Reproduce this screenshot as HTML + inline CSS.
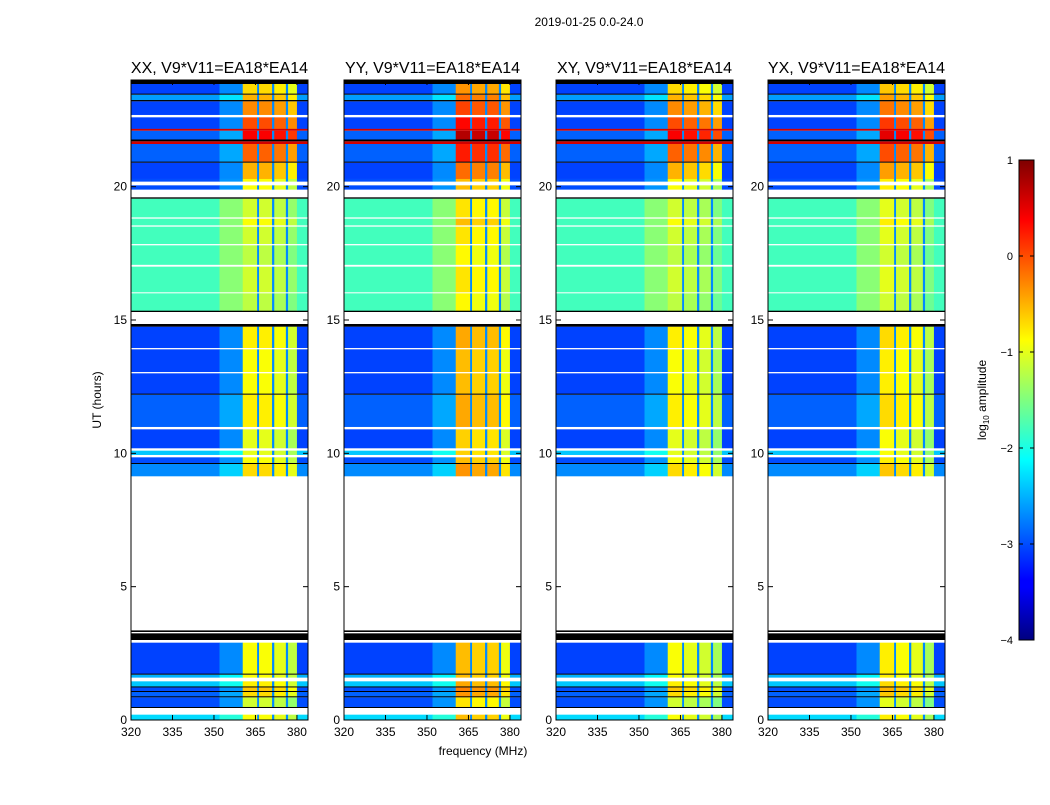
<!DOCTYPE html>
<html><head><meta charset="utf-8"><style>
body{margin:0;background:#fff;width:1050px;height:800px;overflow:hidden}
text{font-family:"Liberation Sans",sans-serif;fill:#000}
</style></head><body>
<svg id="c" width="1050" height="800" xmlns="http://www.w3.org/2000/svg">
<defs><linearGradient id="jet" x1="0" y1="1" x2="0" y2="0">
<stop offset="0" stop-color="#00007f"/><stop offset="0.11" stop-color="#0000ff"/><stop offset="0.125" stop-color="#0000ff"/>
<stop offset="0.375" stop-color="#00ffff"/><stop offset="0.625" stop-color="#ffff00"/><stop offset="0.875" stop-color="#ff0000"/><stop offset="1" stop-color="#7f0000"/>
</linearGradient></defs>
<text x="589" y="26" font-size="12" text-anchor="middle">2019-01-25 0.0-24.0</text>
<text x="483" y="755" font-size="12" text-anchor="middle">frequency (MHz)</text>
<text x="101" y="400" font-size="12" text-anchor="middle" transform="rotate(-90 101 400)">UT (hours)</text>
<g id="panels"></g>
<g>
<rect x="1019" y="160" width="15" height="480" fill="url(#jet)" stroke="#000" stroke-width="1"/>
</g>
<g id="cbticks"></g>
<text x="986" y="400" font-size="12" text-anchor="middle" transform="rotate(-90 986 400)">log<tspan font-size="8" dy="3">10</tspan><tspan dy="-3"> amplitude</tspan></text>
</svg>
<script>
const titles=["XX, V9*V11=EA18*EA14","YY, V9*V11=EA18*EA14","XY, V9*V11=EA18*EA14","YX, V9*V11=EA18*EA14"];
const panelLeft=[131,344,556,768];
const xTicks=[320,335,350,365,380];
const yTicks=[0,5,10,15,20];
const cbTicks=[1,0,-1,-2,-3,-4];
// time rows: [startHour, endHour, lowValue, highValue]; "W"=flagged white, "K"=black line, "R"=red line
const timeRows=[
[0,0.2,-2.3,-1.0],[0.2,0.45,"W"],[0.45,0.5,"K"],[0.5,0.85,-3.0,-1.2],[0.85,0.9,"K"],
[0.9,1.05,-2.9,-0.8],[1.05,1.1,"K"],[1.1,1.22,-3.0,-0.7],[1.22,1.27,"K"],[1.27,1.45,-2.4,-0.9],
[1.45,1.6,"W"],[1.6,1.7,-2.5,-1.0],[1.7,1.75,"K"],[1.75,2.9,-3.05,-1.0],[2.9,3.0,"W"],
[3.0,3.25,"K"],[3.25,3.3,"W"],[3.3,3.36,"K"],[3.36,9.15,"W"],[9.15,9.6,-2.7,-0.8],
[9.6,9.65,"K"],[9.65,9.85,-3.0,-1.0],[9.85,9.95,"W"],[9.95,10.1,-2.4,-1.1],[10.1,10.2,"W"],
[10.2,10.9,-3.05,-1.1],[10.9,11.0,"W"],[11.0,12.2,-2.9,-0.9],[12.2,12.25,"K"],[12.25,13.0,-3.05,-1.0],
[13.0,13.06,"W"],[13.06,13.9,-3.05,-1.0],[13.9,13.96,"W"],[13.96,14.75,-3.05,-0.9],[14.75,14.85,"K"],
[14.85,15.3,"W"],[15.3,15.36,"K"],[15.36,16.0,-1.8,-1.3],[16.0,16.05,"W"],[16.05,17.0,-1.8,-1.2],
[17.0,17.08,"W"],[17.08,17.8,-1.8,-1.3],[17.8,17.86,"W"],[17.86,18.5,-1.8,-1.2],[18.5,18.56,"W"],
[18.56,18.8,-1.8,-1.0],[18.8,18.86,"W"],[18.86,19.55,-1.8,-1.2],[19.55,19.6,"K"],[19.6,19.9,"W"],
[19.9,20.05,-3.0,-1.0],[20.05,20.2,"W"],[20.2,20.3,-3.0,-1.0],[20.3,20.9,-3.05,-0.6],[20.9,20.95,"K"],
[20.95,21.6,-2.9,-0.2],[21.6,21.7,"R"],[21.7,21.78,"K"],[21.78,22.1,-2.9,0.3],[22.1,22.18,"R"],
[22.18,22.6,-3.05,-0.1],[22.6,22.7,"W"],[22.7,23.2,-3.05,-0.4],[23.2,23.26,"K"],[23.26,23.45,-2.6,-0.6],
[23.45,23.5,"K"],[23.5,23.85,-3.05,-0.8],[23.85,24,"K"]];
// frequency segments: [startMHz, endMHz, type]
const freqSegs=[[320,352,"lowA"],[352,360.4,"lowB"],[360.4,365.6,"s1"],[365.6,366.3,"gap"],[366.3,371,"s2"],[371,371.8,"gap"],[371.8,376,"s3"],[376,376.8,"gap"],[376.8,380,"s4"],[380,384,"lowC"]];
// per-panel sub-band offsets [s1,s2,s3,s4] and high-band offset
const subOffsets=[[0.1,0.1,0,-0.2],[0.3,0.2,0.2,-0.1],[0.1,0,-0.1,-0.3],[0.2,0.1,0,-0.3]];
const highOffset=[0,0.15,0,0];

const Y0=720,Y1=80,W=177,FMIN=320,FMAX=384;
const yS=h=>Y0-(h/24)*(Y0-Y1);
function jet(v){let t=(v+4)/5;t=Math.max(0,Math.min(1,t));
 const c=x=>Math.round(255*Math.max(0,Math.min(1,1.5-Math.abs(x))));
 return `rgb(${c(4*t-3)},${c(4*t-2)},${c(4*t-1)})`;}
const NS="http://www.w3.org/2000/svg";
function mk(tag,at,parent){const e=document.createElementNS(NS,tag);for(const k in at)e.setAttribute(k,at[k]);parent.appendChild(e);return e;}
const G=document.getElementById("panels");
panelLeft.forEach((L,p)=>{
 const xS=f=>L+(f-FMIN)/(FMAX-FMIN)*W;
 const g=mk("g",{},G);
 
 
 timeRows.forEach(r=>{
  const y=yS(r[1]),h=yS(r[0])-yS(r[1]);
  if(r[2]==="W")return;
  if(r[2]==="K"||r[2]==="R"){const e=mk("rect",{x:xS(FMIN),y:y,width:W,height:h,fill:r[2]==="K"?"#000":jet(0.6)},g);
   
   return;}
  freqSegs.forEach(s=>{
   let v;
   if(s[2]==="lowA"||s[2]==="lowC")v=r[2];
   else if(s[2]==="lowB")v=r[2]+0.35;
   else if(s[2]==="gap")v=-2.7;
   else{const i=+s[2][1]-1;v=r[3]+highOffset[p]+subOffsets[p][i];}
   const e=mk("rect",{x:xS(s[0]),y:y,width:xS(s[1])-xS(s[0])+0.3,height:h+0.3,fill:jet(v)},g);
   
   
  });
 });
 const fr=mk("rect",{x:L,y:Y1,width:W,height:Y0-Y1,fill:"none",stroke:"#000","stroke-width":1},g);
 
 
 const t=mk("text",{x:L+W/2,y:73,"font-size":16,"text-anchor":"middle"},g);t.textContent=titles[p];
 
 
 xTicks.forEach(f=>{const x=xS(f);
  mk("line",{x1:x,x2:x,y1:Y0,y2:Y0-5,stroke:"#000"},g);mk("line",{x1:x,x2:x,y1:Y1,y2:Y1+5,stroke:"#000"},g);
  const tx=mk("text",{x:x,y:Y0+16,"font-size":12,"text-anchor":"middle"},g);tx.textContent=f;
  
  });
 yTicks.forEach(hh=>{const y=yS(hh);
  mk("line",{x1:L,x2:L+5,y1:y,y2:y,stroke:"#000"},g);mk("line",{x1:L+W,x2:L+W-5,y1:y,y2:y,stroke:"#000"},g);
  const ty=mk("text",{x:L-4,y:y+4,"font-size":12,"text-anchor":"end"},g);ty.textContent=hh;
  
  });
});
const CB=document.getElementById("cbticks");
cbTicks.forEach(v=>{const y=160+(1-v)/5*480;
 mk("line",{x1:1019,x2:1023,y1:y,y2:y,stroke:"#000"},CB);mk("line",{x1:1034,x2:1030,y1:y,y2:y,stroke:"#000"},CB);
 const t=mk("text",{x:1013,y:y+4,"font-size":11,"text-anchor":"end"},CB);t.textContent=v<0?"\u2212"+(-v):v;
 
 });
</script>
</body></html>
